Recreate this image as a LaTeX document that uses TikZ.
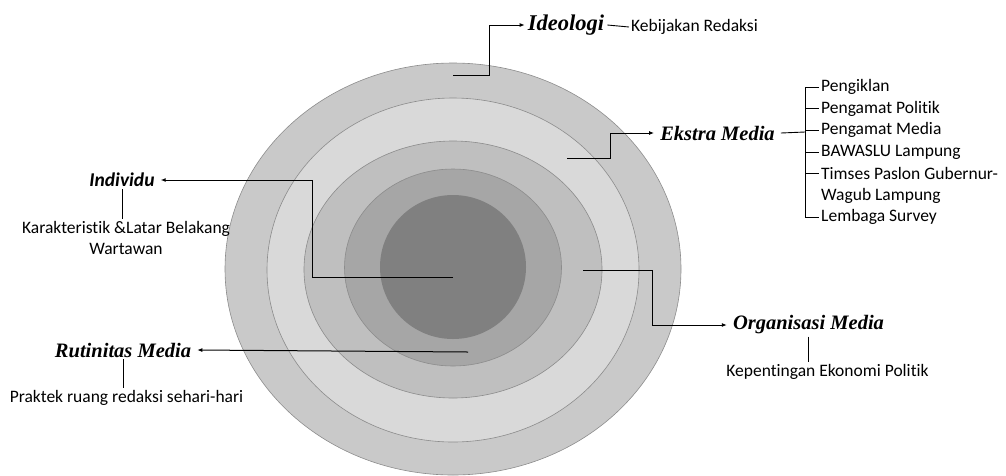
\documentclass[tikz,border=0pt]{standalone}
\usepackage{fontspec}
\setmainfont{Liberation Serif}
\newfontfamily\calibri[Ligatures=NoCommon]{Carlito}
\usetikzlibrary{arrows.meta, positioning}

\tikzset{
  ring/.style={draw=black!45, line width=0.6pt},
  arrowline/.style={draw=black, line width=1pt, -{Latex[length=5pt,width=4pt]}},
  plainline/.style={draw=black, line width=0.9pt},
  headserif/.style={inner xsep=6pt, inner ysep=2pt, font=\fontsize{20.5}{23}\selectfont\bfseries\itshape},
  headsans/.style={inner xsep=6pt, inner ysep=2pt, font=\calibri\fontsize{19.5}{22}\selectfont\bfseries\itshape},
  label/.style={inner sep=2pt, font=\calibri\fontsize{17.5}{21.5}\selectfont}
}

\begin{document}
\begin{tikzpicture}[x=1pt, y=-1pt]
      \useasboundingbox (0,0) rectangle (1006,475);

      % Draw rings
      \fill[ring, fill=black!21] (453,269) ellipse [x radius=228, y radius=206];
      \fill[ring, fill=black!15] (453,270) ellipse [x radius=186, y radius=172];
      \fill[ring, fill=black!25] (453,269.5) ellipse [x radius=149, y radius=128.5];
      \fill[ring, fill=black!35] (453,267.5) ellipse [x radius=108.5, y radius=98.5];
      \fill[fill=black!50] (453,267) ellipse [x radius=73, y radius=72];

      % Define points
      \coordinate (ideoS) at (453,75);
      \coordinate (ekstraS) at (567,158);
      \coordinate (indivS) at (453,277);
      \coordinate (rutinS) at (468,352);
      \coordinate (orgS) at (583,270);
      \coordinate (brk) at (805,132);

      % Headings
      \node[headserif, font=\fontsize{22.5}{25}\selectfont\bfseries\itshape, inner xsep=3pt] (ideologi) at (566,25) {Ideologi};
      \node[headserif] (ekstra) at (717.5,133) {Ekstra Media};
      \node[headsans] (individu) at (122,180) {Individu};
      \node[headserif] (rutinitas) at (123,350) {Rutinitas Media};
      \node[headserif] (organisasi) at (808.5,325) {Organisasi Media};

      % Labels
      \node[label, anchor=west] (kebijakan) at (629,27) {Kebijakan Redaksi};
      \node[label, align=center] (karakteristik) at (126,238) {Karakteristik \&Latar Belakang\\Wartawan};
      \node[label] (praktek) at (126.5,398) {Praktek ruang redaksi sehari-hari};
      \node[label] (kepentingan) at (827.5,372) {Kepentingan Ekonomi Politik};
      \foreach \t [count=\i] in {Pengiklan, Pengamat Politik, Pengamat Media, BAWASLU Lampung, Timses Paslon Gubernur-, Wagub Lampung, Lembaga Survey}
        \node[label, anchor=west] (e\i) at (819,{87+21.7*(\i-1)}) {\t};

      % Draw arrows
      \draw[arrowline] (ideoS) -- ++(36,0) |- (ideologi.west);
      \draw[arrowline] (ekstraS) -- ++(43,0) |- (ekstra.west);
      \draw[arrowline] (indivS) -- ++(-141,0) |- (individu.east);
      \draw[arrowline] (rutinS) -- (rutinitas.east);
      \draw[arrowline] (orgS) -- ++(69,0) |- (organisasi.west);

      % Draw label lines
      \draw[plainline] (ideologi.east) -- (kebijakan.west);
      \draw[plainline] (ekstra.east) -- (brk);
      \draw[plainline] (e1.west) -- (e1.west -| brk) -- (e7.west -| brk) -- (e7.west);
      \foreach \i in {2,3,4,5}
        \draw[plainline] (e\i.west -| brk) -- (e\i.west);
      \draw[plainline] (individu.south) -- (individu.south |- karakteristik.north);
      \draw[plainline] (rutinitas.south) -- (rutinitas.south |- praktek.north);
      \draw[plainline] (organisasi.south) -- (organisasi.south |- kepentingan.north);
  \end{tikzpicture}
\end{document}
